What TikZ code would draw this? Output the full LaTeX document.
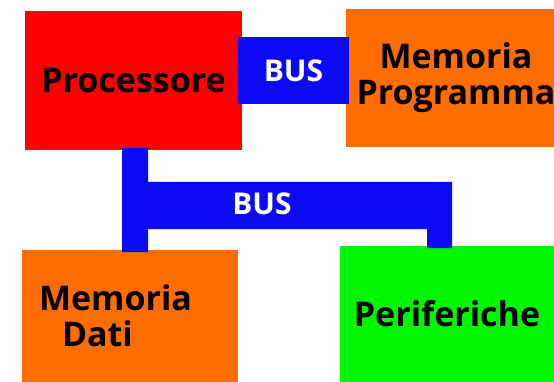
\documentclass[tikz,border=0pt]{standalone}
\usepackage{fontspec}
\setmainfont{Open Sans}
\usetikzlibrary{positioning}
\definecolor{busblue}{RGB}{10,10,245}
\definecolor{procred}{RGB}{250,0,0}
\definecolor{memorange}{RGB}{255,108,0}
\definecolor{perigreen}{RGB}{0,245,0}
\newcommand{\lblfont}{\fontsize{34}{36}\selectfont\bfseries}
\newcommand{\busfont}{\fontsize{30}{30}\selectfont\bfseries}

\begin{document}
\begin{tikzpicture}[x=1pt,y=-1pt,
  unit/.style={inner sep=0pt, font=\lblfont, text=black},
  buslabel/.style={inner sep=0pt, font=\busfont, text=white}]
\useasboundingbox (0,0) rectangle (554,382);
% units
\node[unit, fill=procred, minimum width=217pt, minimum height=139pt] (proc) at (133.5,80.5) {Processore};
\node[unit, fill=memorange, minimum width=220pt, minimum height=138pt, align=center] (prog) at (456,78) {Memoria\\Programma};
\node[unit, fill=memorange, minimum width=216pt, minimum height=132pt, text width=182pt, align=left] (dati) at (130,316) {Memoria\\\hspace*{23pt}Dati};
\node[unit, fill=perigreen, minimum width=214pt, minimum height=136pt] (peri) at (447,314) {Periferiche};
% bus between processore and program memory
\node[buslabel, fill=busblue, minimum width=111pt, minimum height=67pt] (topbus) at (293.5,70.5) {BUS};
% shared bus
\fill[busblue] (122,148) -- (148,148) -- (148,182) -- (452,182) -- (452,248) -- (427,248)
  -- (427,229) -- (148,229) -- (148,252) -- (122,252) -- cycle;
\node[buslabel] (lowbus) at (262,204) {BUS};
\end{tikzpicture}
\end{document}
